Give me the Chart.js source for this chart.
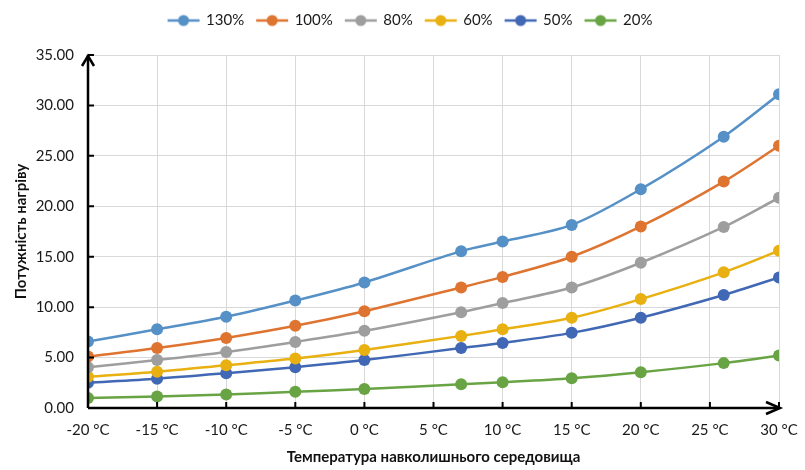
<!DOCTYPE html>
<html>
<head>
<meta charset="utf-8">
<script src="https://cdn.jsdelivr.net/npm/chart.js@4.4.0/dist/chart.umd.min.js"></script>
<style>
  html, body { margin: 0; padding: 0; background: #fff; }
  #wrap { width: 805px; height: 470px; }
</style>
</head>
<body>
<div id="wrap"><canvas id="heatChart"></canvas></div>
<script>
// Outdoor temperature, °C
const temps = [-20, -15, -10, -5, 0, 7, 10, 15, 20, 26, 30];

// Heating power per load level
const load130 = [6.6, 7.8, 9.05, 10.65, 12.45, 15.55, 16.5, 18.15, 21.7, 26.9, 31.1];
const load100 = [5.1, 5.95, 6.95, 8.15, 9.6, 11.95, 13.0, 15.0, 18.0, 22.45, 26.0];
const load80 = [4.05, 4.75, 5.55, 6.55, 7.65, 9.5, 10.4, 11.95, 14.4, 17.95, 20.85];
const load60 = [3.1, 3.6, 4.25, 4.9, 5.75, 7.15, 7.8, 8.95, 10.8, 13.45, 15.6];
const load50 = [2.5, 2.9, 3.45, 4.05, 4.75, 5.95, 6.45, 7.45, 8.95, 11.2, 12.95];
const load20 = [0.98, 1.15, 1.35, 1.6, 1.88, 2.35, 2.55, 2.95, 3.55, 4.45, 5.2];

const seriesLabels = ['130%', '100%', '80%', '60%', '50%', '20%'];
const seriesValues = [load130, load100, load80, load60, load50, load20];
const seriesColors = ['#5590c6', '#de7430', '#9e9e9e', '#e8b010', '#4168b4', '#68a444'];

const FONT = 'Lato, "Open Sans", "Noto Sans", sans-serif';

/**
 * Small line + marker swatch for the legend
 */
function makeSwatch(color) {
    const c = document.createElement('canvas');
    c.width = 34;
    c.height = 14;
    const g = c.getContext('2d');
    g.strokeStyle = color;
    g.lineWidth = 2.5;
    g.beginPath();
    g.moveTo(1, 7);
    g.lineTo(33, 7);
    g.stroke();
    g.fillStyle = color;
    g.beginPath();
    g.arc(17, 7, 5.5, 0, Math.PI * 2);
    g.fill();
    return c;
}

const swatches = seriesColors.map(makeSwatch);

const datasets = seriesLabels.map((label, i) => ({
    label: label,
    data: temps.map((t, j) => ({ x: t, y: seriesValues[i][j] })),
    borderColor: seriesColors[i],
    backgroundColor: seriesColors[i],
    borderWidth: 2.5,
    pointRadius: 6,
    pointHoverRadius: 6,
    pointBorderWidth: 0,
    tension: 0.3,
    fill: false
}));

// Give the legend some extra room below it and nudge it right
const legendRoom = {
    id: 'legendRoom',
    beforeInit(chart) {
        const fit = chart.legend.fit;
        chart.legend.fit = function () {
            fit.call(this);
            this.height += 17;
        };
    },
    afterLayout(chart) {
        chart.legend.left += 8;
        chart.legend.right += 8;
    }
};

// Axis arrows and inward tick marks
const axisDecor = {
    id: 'axisDecor',
    afterDatasetsDraw(chart) {
        const { ctx, chartArea } = chart;
        const xs = chart.scales.x;
        const ys = chart.scales.y;
        ctx.save();
        ctx.strokeStyle = '#000';
        ctx.lineWidth = 2.5;
        ctx.lineCap = 'butt';

        // axis lines
        ctx.beginPath();
        ctx.moveTo(chartArea.left, chartArea.bottom);
        ctx.lineTo(chartArea.left, chartArea.top);
        ctx.moveTo(chartArea.left, chartArea.bottom);
        ctx.lineTo(chartArea.right, chartArea.bottom);
        ctx.stroke();

        // tick marks pointing into the plot
        ctx.lineWidth = 2;
        ctx.beginPath();
        ys.ticks.forEach(t => {
            const y = ys.getPixelForValue(t.value);
            ctx.moveTo(chartArea.left, y);
            ctx.lineTo(chartArea.left + 6, y);
        });
        xs.ticks.forEach(t => {
            const x = xs.getPixelForValue(t.value);
            ctx.moveTo(x, chartArea.bottom);
            ctx.lineTo(x, chartArea.bottom - 6);
        });
        ctx.stroke();

        // arrow heads
        ctx.lineWidth = 2.5;
        ctx.lineJoin = 'miter';
        ctx.beginPath();
        ctx.moveTo(chartArea.left - 6, chartArea.top + 11);
        ctx.lineTo(chartArea.left, chartArea.top + 1);
        ctx.lineTo(chartArea.left + 6, chartArea.top + 11);
        ctx.moveTo(chartArea.right - 13, chartArea.bottom - 6);
        ctx.lineTo(chartArea.right + 1, chartArea.bottom);
        ctx.lineTo(chartArea.right - 13, chartArea.bottom + 6);
        ctx.stroke();
        ctx.restore();
    }
};

const ctx = document.getElementById('heatChart').getContext('2d');
new Chart(ctx, {
    type: 'line',
    data: { datasets: datasets },
    plugins: [legendRoom, axisDecor],
    options: {
        responsive: true,
        maintainAspectRatio: false,
        animation: false,
        layout: {
            padding: { left: 0, right: 0, top: 0, bottom: 4 }
        },
        plugins: {
            legend: {
                display: true,
                position: 'top',
                labels: {
                    usePointStyle: true,
                    pointStyleWidth: 30,
                    padding: 13,
                    color: '#1a1a1a',
                    font: { family: FONT, size: 15 },
                    generateLabels(chart) {
                        return chart.data.datasets.map((ds, i) => ({
                            text: ds.label,
                            fillStyle: ds.borderColor,
                            strokeStyle: ds.borderColor,
                            pointStyle: swatches[i],
                            lineWidth: 0,
                            hidden: false,
                            datasetIndex: i,
                            fontColor: '#1a1a1a'
                        }));
                    }
                }
            },
            tooltip: { enabled: false }
        },
        scales: {
            x: {
                type: 'linear',
                min: -20,
                max: 30,
                afterFit(scale) {
                    scale.height = 58;
                    scale.paddingLeft = 0;
                    scale.paddingRight = 26;
                },
                ticks: {
                    stepSize: 5,
                    padding: 13,
                    color: '#1a1a1a',
                    font: { family: FONT, size: 15 },
                    callback: v => v + ' °C'
                },
                grid: {
                    color: '#d9d9d9',
                    lineWidth: 1,
                    drawTicks: false
                },
                border: { display: false },
                title: {
                    display: true,
                    text: 'Температура навколишнього середовища',
                    color: '#111',
                    font: { family: FONT, size: 15, weight: 'bold' },
                    padding: { top: 6, bottom: 0 }
                }
            },
            y: {
                min: 0,
                max: 35,
                afterFit(scale) { scale.width = 88; },
                ticks: {
                    stepSize: 5,
                    padding: 14,
                    color: '#1a1a1a',
                    font: { family: FONT, size: 15 },
                    callback: v => v.toFixed(2)
                },
                grid: {
                    color: '#d9d9d9',
                    lineWidth: 1,
                    drawTicks: false
                },
                border: { display: false },
                title: {
                    display: true,
                    text: 'Потужність нагріву',
                    color: '#111',
                    font: { family: FONT, size: 15, weight: 'bold' },
                    padding: { top: 12, bottom: 4 }
                }
            }
        }
    }
});
</script>
</body>
</html>
